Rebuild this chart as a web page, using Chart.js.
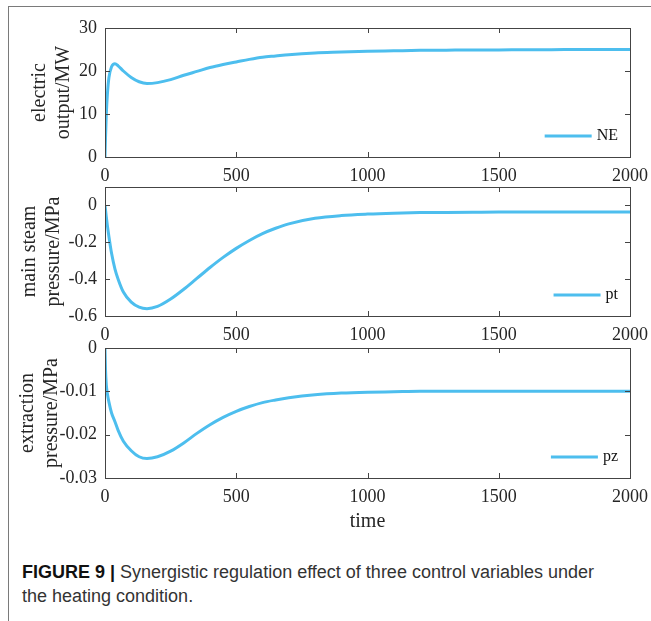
<!DOCTYPE html>
<html>
<head>
<meta charset="utf-8">
<script src="https://cdn.jsdelivr.net/npm/chart.js@4.4.1/dist/chart.umd.min.js"></script>
<style>
	body { margin: 0; background: #fff; }
	#page { position: relative; width: 651px; height: 621px; overflow: hidden; }
	#frame { position: absolute; left: 8px; top: 6px; width: 700px; height: 700px; border-top: 1px solid #7a7a7a; border-left: 1px solid #7a7a7a; }
	canvas { position: absolute; left: 0; }
	#caption { position: absolute; left: 22px; top: 561px; white-space: nowrap; font-family: "Liberation Sans", Arial, sans-serif; font-size: 18px; line-height: 23.5px; color: #333; }
	#caption b { color: #111; }
</style>
</head>
<body>
<div id="page">
	<div id="frame"></div>
	<canvas id="neChart" width="651" height="183" style="top:14px"></canvas>
	<canvas id="ptChart" width="651" height="183" style="top:173px"></canvas>
	<canvas id="pzChart" width="651" height="204" style="top:334px"></canvas>
	<div id="caption"><b>FIGURE 9 |</b> Synergistic regulation effect of three control variables under<br>the heating condition.</div>
</div>
<script>
// data
const time = [0, 2, 5, 9, 15, 25, 38, 50, 70, 100, 130, 160, 200, 250, 300, 350, 400, 450, 500, 550, 600, 650, 700, 800, 900, 1000, 1100, 1200, 1300, 1400, 1500, 1600, 1700, 1800, 1900, 2000];
const NE = [0, 4.5, 10, 14.5, 18.5, 21, 21.7, 21.2, 20.0, 18.5, 17.5, 17.1, 17.3, 18.0, 19.0, 19.9, 20.8, 21.5, 22.1, 22.7, 23.2, 23.5, 23.8, 24.2, 24.4, 24.6, 24.7, 24.8, 24.85, 24.9, 24.9, 24.95, 24.95, 25, 25, 25];
const pt = [0, -0.025, -0.062, -0.108, -0.17, -0.26, -0.345, -0.4, -0.47, -0.525, -0.552, -0.56, -0.548, -0.508, -0.455, -0.396, -0.337, -0.282, -0.233, -0.19, -0.153, -0.124, -0.1, -0.07, -0.055, -0.047, -0.042, -0.039, -0.038, -0.037, -0.036, -0.036, -0.036, -0.036, -0.036, -0.036];
const pz = [0, -0.005, -0.0085, -0.0105, -0.0125, -0.015, -0.017, -0.019, -0.0215, -0.0237, -0.0251, -0.0255, -0.0251, -0.0238, -0.0219, -0.0197, -0.0177, -0.016, -0.0146, -0.0135, -0.0126, -0.012, -0.0115, -0.0108, -0.0104, -0.0102, -0.0101, -0.01, -0.01, -0.01, -0.01, -0.01, -0.01, -0.01, -0.01, -0.01];

// ticks
const xTicks = [0, 500, 1000, 1500, 2000];
const neTicks = [0, 10, 20, 30];
const ptTicks = [-0.6, -0.4, -0.2, 0];
const pzTicks = [-0.03, -0.02, -0.01, 0];

const lineColor = '#4dbeee';
const axisColor = '#444444';
const textColor = '#262626';
const serif = '"Liberation Serif", "Times New Roman", serif';

// box, inward ticks and legend like matlab
const matlabBox = {
	id: 'matlabBox',
	afterDraw(chart) {
		const { ctx, chartArea: a, scales } = chart;
		const len = 5;
		ctx.save();
		ctx.strokeStyle = axisColor;
		ctx.lineWidth = 1;
		ctx.strokeRect(Math.round(a.left) + 0.5, Math.round(a.top) + 0.5, Math.round(a.right - a.left), Math.round(a.bottom - a.top));
		ctx.beginPath();
		scales.x.ticks.forEach(t => {
			let px = Math.round(scales.x.getPixelForValue(t.value)) + 0.5;
			ctx.moveTo(px, a.top); ctx.lineTo(px, a.top + len);
			ctx.moveTo(px, a.bottom); ctx.lineTo(px, a.bottom - len);
		});
		scales.y.ticks.forEach(t => {
			let py = Math.round(scales.y.getPixelForValue(t.value)) + 0.5;
			ctx.moveTo(a.left, py); ctx.lineTo(a.left + len, py);
			ctx.moveTo(a.right, py); ctx.lineTo(a.right - len, py);
		});
		ctx.stroke();

		// legend
		let ds = chart.data.datasets[0];
		ctx.font = '16px ' + serif;
		ctx.fillStyle = '#111';
		ctx.textAlign = 'right';
		ctx.textBaseline = 'middle';
		let tx = a.right - 12;
		let ty = a.bottom - 21;
		ctx.fillText(ds.label, tx, ty);
		let tw = ctx.measureText(ds.label).width;
		ctx.strokeStyle = lineColor;
		ctx.lineWidth = 3;
		ctx.beginPath();
		ctx.moveTo(tx - tw - 5 - 47, ty);
		ctx.lineTo(tx - tw - 5, ty);
		ctx.stroke();
		ctx.restore();
	}
};

function makePanel(canvasId, label, values, yMin, yMax, yTicks, yTitle, titlePad, showTime) {
	const ctx = document.getElementById(canvasId);
	return new Chart(ctx, {
		type: 'line',
		data: {
			datasets: [{
				label: label,
				data: time.map((t, i) => ({ x: t, y: values[i] })),
				borderColor: lineColor,
				borderWidth: 3,
				pointRadius: 0,
				cubicInterpolationMode: 'monotone',
				fill: false,
			}]
		},
		options: {
			responsive: false,
			animation: false,
			layout: { autoPadding: false, padding: { top: 14, right: 21, left: 0, bottom: 0 } },
			plugins: {
				legend: { display: false },
				tooltip: { enabled: false },
			},
			scales: {
				x: {
					type: 'linear',
					min: 0,
					max: 2000,
					afterBuildTicks: s => { s.ticks = xTicks.map(v => ({ value: v })); },
					afterFit: s => {
						s.height = showTime ? 60 : 40;
						s.paddingLeft = 0;
						s.paddingRight = 0;
					},
					grid: { display: false, drawTicks: false },
					border: { display: false },
					ticks: { color: textColor, font: { family: serif, size: 18 }, padding: 8, maxRotation: 0, autoSkip: false, callback: v => String(v) },
					title: {
						display: showTime,
						text: 'time',
						color: textColor,
						font: { family: serif, size: 20, lineHeight: 1.1 },
						padding: { top: 0, bottom: 5 },
					},
				},
				y: {
					min: yMin,
					max: yMax,
					afterBuildTicks: s => { s.ticks = yTicks.map(v => ({ value: v })); },
					afterFit: s => {
						s.width = 105;
						s.paddingTop = 0;
						s.paddingBottom = 0;
					},
					grid: { display: false, drawTicks: false },
					border: { display: false },
					ticks: {
						color: textColor,
						font: { family: serif, size: 18 },
						padding: 8,
						callback: v => String(v),
					},
					title: {
						display: true,
						text: yTitle,
						color: textColor,
						font: { family: serif, size: 20, lineHeight: 1.2 },
						padding: { top: titlePad, bottom: 0 },
					},
				}
			}
		},
		plugins: [matlabBox]
	});
}

makePanel('neChart', 'NE', NE, 0, 30, neTicks, ['electric', 'output/MW'], 28, false);
makePanel('ptChart', 'pt', pt, -0.6, 0.1, ptTicks, ['main steam', 'pressure/MPa'], 18, false);
makePanel('pzChart', 'pz', pz, -0.03, 0, pzTicks, ['extraction', 'pressure/MPa'], 16, true);
</script>
</body>
</html>
